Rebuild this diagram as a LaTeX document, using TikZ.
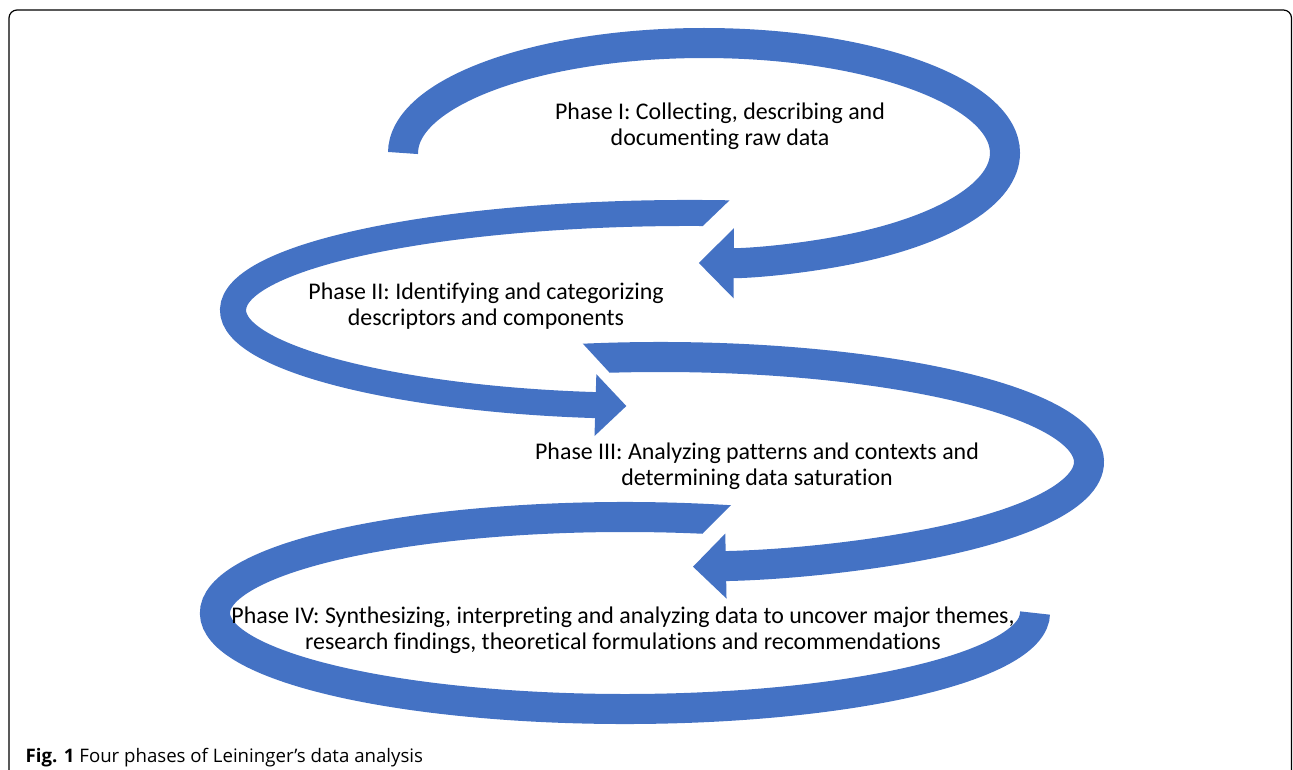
\documentclass[tikz,border=0pt]{standalone}
\usepackage{fontspec}
\setmainfont{Carlito}[Ligatures={TeX,NoCommon}]
\newfontfamily\capfont{Open Sans}
\usetikzlibrary{arrows.meta}
\definecolor{loopblue}{RGB}{68,114,196}

\begin{document}
\begin{tikzpicture}[x=0.01cm, y=-0.01cm,
    band/.style={draw=loopblue, line width=0.30cm},
    head/.style={-{Triangle[length=0.35cm, width=0.68cm]}},
    phase/.style={text=black, font=\fontsize{6.8}{7.4}\selectfont, align=center, inner sep=0pt}]
    \useasboundingbox (0,0) rectangle (1293,769);

    % figure frame, open at the bottom
    \draw[line width=0.012cm, rounded corners=0.08cm] (9,800) -- (9,10) -- (1291.5,10) -- (1291.5,800);

    \coordinate (t1) at (403,153);
    \coordinate (t2) at (737.8,213.5);
    \coordinate (t3) at (570.8,359.3);
    \coordinate (t4) at (744.9,521.2);

    \draw[band, head] (t1) arc[start angle=180, end angle=451, x radius=301, y radius=110];

    \begin{scope}
      \clip (150,150) -- (782,150) -- (683,245) -- (800,245) -- (800,460) -- (150,460) -- cycle;
      \draw[band, line width=0.26cm, -{Triangle[length=0.31cm, width=0.6cm]}] (t2) arc[start angle=276, end angle=98, x radius=457, y radius=97];
    \end{scope}

    \begin{scope}
      \clip (561,320) -- (1120,320) -- (1120,620) -- (540,620) -- (540,400) -- (634.8,400) -- cycle;
      \draw[band, -{Triangle[length=0.33cm, width=0.63cm]}] (t3) arc[start angle=258, end angle=445.6, x radius=429, y radius=105];
    \end{scope}

    \begin{scope}
      \clip (180,480) -- (756,480) -- (691,545) -- (1070,545) -- (1070,740) -- (180,740) -- cycle;
      \draw[band] (t4) arc[start angle=287, end angle=0, x radius=410, y radius=96];
    \end{scope}

    \node[phase] (collect) at (720,126) {Phase I: Collecting, describing and\\documenting raw data};
    \node[phase] (identify) at (486,306) {Phase II: Identifying and categorizing\\descriptors and components};
    \node[phase] (analyze) at (757,466) {Phase III: Analyzing patterns and contexts and\\determining data saturation};
    \node[phase] (synth) at (623,630) {Phase IV: Synthesizing, interpreting and analyzing data to uncover major themes,\\research findings, theoretical formulations and recommendations};

    \node[anchor=base west, inner sep=0pt, font=\capfont\fontsize{5.3}{6.4}\selectfont] (caption) at (25,762) {\textbf{Fig. 1} Four phases of Leininger’s data analysis};
\end{tikzpicture}
\end{document}
